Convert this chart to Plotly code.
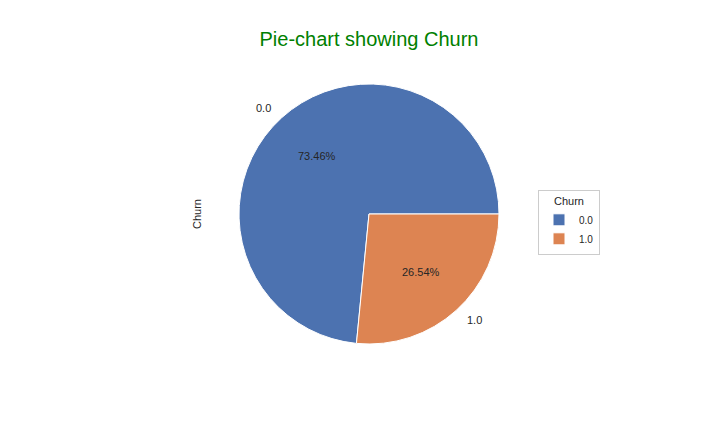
import numpy as np
import plotly.graph_objects as go

# churn share
labels = ["0.0", "1.0"]
values = [73.46, 26.54]
colors = ["#4C72B0", "#DD8452"]

W, H = 720, 432
PAD = 8  # browser body margin shifts the figure by this much
cx, cy, r = 369 - PAD, 214 - PAD, 130  # pie centre and radius in px (from top-left)

fracs = np.array(values) / sum(values)

fig = go.Figure()
# plotly's counterclockwise mode ends the first slice at `rotation`,
# so shift it to make the first slice start at 3 o'clock like matplotlib
fig.add_trace(go.Pie(
    labels=labels, values=values, sort=False,
    direction="counterclockwise", rotation=90 - 360 * fracs[0],
    marker=dict(colors=colors, line=dict(color="white", width=1)),
    textinfo="none", hoverinfo="label+percent",
    domain=dict(x=[(cx - r) / W, (cx + r) / W], y=[1 - (cy + r) / H, 1 - (cy - r) / H]),
))

# label and percentage text like matplotlib's autopct / labeldistance
start = np.concatenate([[0], np.cumsum(fracs)[:-1]])
mid = (start + fracs / 2) * 2 * np.pi
for lab, f, a in zip(labels, fracs, mid):
    for dist, txt in [(1.1, lab), (0.6, f"{f * 100:.2f}%")]:
        x = cx + dist * r * np.cos(a)
        y = cy - dist * r * np.sin(a)
        xa = "center"
        if dist > 1:
            xa = "left" if np.cos(a) > 0 else "right"
        fig.add_annotation(x=x / W, y=1 - y / H, xref="paper", yref="paper", text=txt,
                           showarrow=False, xanchor=xa, yanchor="middle",
                           font=dict(size=11, color="#262626"))

fig.add_annotation(x=(cx - r - 50) / W, y=1 - cy / H, xref="paper", yref="paper", text="Churn",
                   textangle=-90, showarrow=False, font=dict(size=11, color="#262626"))

fig.update_layout(
    width=W, height=H,
    margin=dict(l=0, r=0, t=0, b=0),
    paper_bgcolor="white", plot_bgcolor="white",
    font=dict(family="Liberation Sans, Arial, sans-serif", color="#262626"),
    title=dict(text="Pie-chart showing Churn", x=cx / W, xanchor="center", y=1 - (39 - PAD) / H,
               yanchor="middle", font=dict(size=20, color="green")),
    legend=dict(title=dict(text="Churn", side="top center", font=dict(size=11, color="#262626")),
                x=(538 - PAD) / W, y=1 - (190 - PAD) / H, xanchor="left", yanchor="top",
                bordercolor="#cccccc", borderwidth=1, font=dict(size=10, color="#262626"),
                traceorder="normal", tracegroupgap=0, itemwidth=30),
)

fig.write_html("out.html")
